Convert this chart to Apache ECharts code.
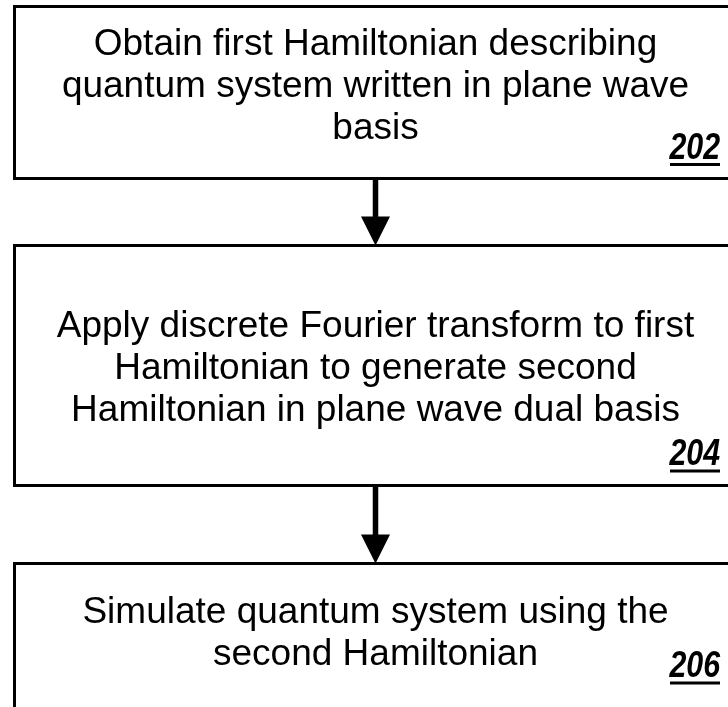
<!DOCTYPE html>
<html>
<head>
<meta charset="utf-8">
<script src="https://cdn.jsdelivr.net/npm/echarts@6/dist/echarts.min.js"></script>
<style>
html,body{margin:0;padding:0;background:#fff;}
#chart{width:728px;height:707px;}
</style>
</head>
<body>
<div id="chart"></div>
<script>
// ---- data ----
const stepLines = [
  ["Obtain first Hamiltonian describing", "quantum system written in plane wave", "basis"],
  ["Apply discrete Fourier transform to first", "Hamiltonian to generate second", "Hamiltonian in plane wave dual basis"],
  ["Simulate quantum system using the", "second Hamiltonian"]
];
const stepRefs = ["202", "204", "206"];

// ---- layout / style ----
const L = {
  left: 14.5,
  boxWidth: 800,
  boxTop: [6.5, 245.5, 563.5],
  boxBottom: [178.5, 485.5, 820],
  firstBaseline: [58, 340, 626],
  refBaseline: [161.5, 468, 680],
  lineGap: 42,
  centerX: 375.5,
  refRight: 720,
  refWidth: 50,
  fontSize: 37,
  border: 3,
  shaft: 5.5,
  headW: 29,
  headH: 29
};
const MID = 0.3465 * L.fontSize; // baseline offset from 'middle'

function renderItem(params, api) {
  const i = api.value(0);
  const children = [];
  // box
  children.push({
    type: 'rect',
    shape: { x: L.left, y: L.boxTop[i], width: L.boxWidth, height: L.boxBottom[i] - L.boxTop[i] },
    style: { fill: 'transparent', stroke: '#000', lineWidth: L.border }
  });
  // text lines
  stepLines[i].forEach(function (line, k) {
    children.push({
      type: 'text',
      x: L.centerX,
      y: L.firstBaseline[i] + k * L.lineGap - MID,
      style: {
        text: line,
        font: L.fontSize + 'px "Liberation Sans", Arial, sans-serif',
        fill: '#000',
        align: 'center',
        verticalAlign: 'middle'
      }
    });
  });
  // reference number
  children.push({
    type: 'text',
    x: L.refRight,
    y: L.refBaseline[i] - MID,
    scaleX: 0.82,
    style: {
      text: stepRefs[i],
      font: 'italic bold ' + L.fontSize + 'px "Liberation Sans", Arial, sans-serif',
      fill: '#000',
      align: 'right',
      verticalAlign: 'middle'
    }
  });
  children.push({
    type: 'line',
    shape: { x1: L.refRight - L.refWidth, y1: L.refBaseline[i] + 3, x2: L.refRight, y2: L.refBaseline[i] + 3 },
    style: { stroke: '#000', lineWidth: 3 }
  });
  // arrow to next step
  if (i < stepLines.length - 1) {
    const y0 = L.boxBottom[i];
    const y1 = L.boxTop[i + 1];
    const headStart = y1 - L.headH;
    children.push({
      type: 'rect',
      shape: { x: L.centerX - L.shaft / 2, y: y0, width: L.shaft, height: headStart - y0 + 1 },
      style: { fill: '#000' }
    });
    children.push({
      type: 'polygon',
      shape: { points: [[L.centerX - L.headW / 2, headStart], [L.centerX + L.headW / 2, headStart], [L.centerX, y1]] },
      style: { fill: '#000' }
    });
  }
  return { type: 'group', children: children };
}

const chart = echarts.init(document.getElementById('chart'), null, { renderer: 'canvas' });
chart.setOption({
  backgroundColor: '#ffffff',
  animation: false,
  series: [{
    type: 'custom',
    coordinateSystem: 'none',
    renderItem: renderItem,
    data: stepLines.map(function (_, i) { return [i]; })
  }]
});
</script>
</body>
</html>
